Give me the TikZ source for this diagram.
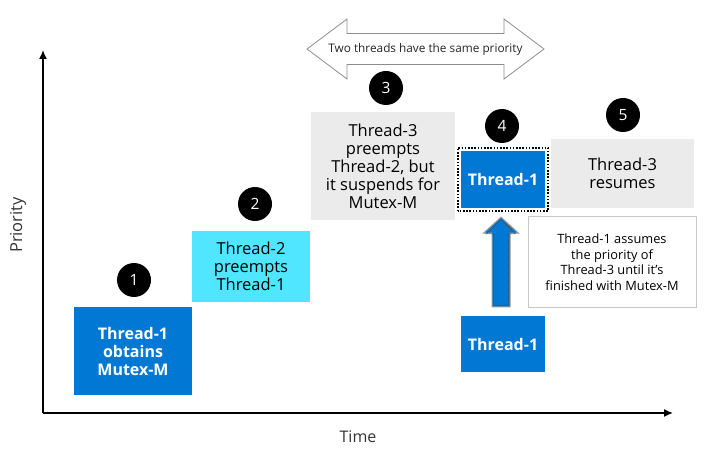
\documentclass[tikz,border=0pt]{standalone}
\usepackage{fontspec}
\setmainfont{Open Sans}
\usetikzlibrary{calc}
\definecolor{threadblue}{HTML}{0078D4}
\definecolor{threadcyan}{HTML}{50E6FF}
\definecolor{threadgray}{HTML}{EBEBEB}
\definecolor{noteborder}{HTML}{C8C8C8}
\tikzset{
  box/.style={inner sep=2pt, align=center, font=\fontsize{16.5}{18}\selectfont},
  stepnum/.style={circle, fill=black, text=white, minimum size=34pt, inner sep=0pt, font=\fontsize{15.5}{18}\selectfont},
  axis/.style={line width=1.5pt, -{Latex[length=9pt,width=8pt]}},
}
\usetikzlibrary{arrows.meta}
\begin{document}
\begin{tikzpicture}[x=1pt, y=-1pt]
  % Define parameters
  \def\headExt{17.5}   % half width of the head of the up arrow
  \def\shaftHalf{9}    % half width of the shaft of the up arrow
  \def\frameGap{3}     % gap between Thread-1 and its dotted frame

  \useasboundingbox (0,0) rectangle (711,462);

  %% Axes
  \coordinate (origin) at (43,413);
  \coordinate (ytop) at (43,50);
  \coordinate (xend) at (673,413);
  \draw[axis] (origin) -- (ytop);
  \draw[axis] (origin) -- (xend);
  \node[rotate=90, font=\fontsize{16.5}{18}\selectfont, text=black!80] (priolabel) at (18,225) {Priority};
  \node[font=\fontsize{16}{18}\selectfont, text=black!80] (timelabel) at (358,437) {Time};

  %% Boxes of the five steps
  \node[box, fill=threadblue, text=white, font=\bfseries\fontsize{16}{18}\selectfont,
        minimum width=118pt, minimum height=88pt] (obtains) at (133,351) {Thread-1\\obtains\\Mutex-M};
  \node[box, fill=threadcyan, minimum width=118pt, minimum height=71pt] (preempts) at (251,266.5) {Thread-2\\preempts\\Thread-1};
  \node[box, fill=threadgray, minimum width=144pt, minimum height=108pt] (suspends) at (383,166) {Thread-3\\preempts\\Thread-2, but\\it suspends for\\Mutex-M};
  \node[box, fill=threadblue, text=white, font=\bfseries\fontsize{16}{18}\selectfont,
        minimum width=84pt, minimum height=57pt] (inherit) at (503,179.5) {Thread-1};
  \node[box, fill=threadgray, minimum width=143pt, minimum height=69pt] (resumes) at (622.5,173.5) {Thread-3\\resumes};
  \node[box, fill=threadblue, text=white, font=\bfseries\fontsize{16}{18}\selectfont,
        minimum width=84pt, minimum height=56pt] (lowthread) at (503,344) {Thread-1};
  \node[box, draw=noteborder, line width=1pt, fill=white, font=\fontsize{12.8}{15.5}\selectfont,
        minimum width=168pt, minimum height=90pt] (note) at (612,262) {Thread-1 assumes\\the priority of\\Thread-3 until it's\\finished with Mutex-M};

  % dotted frame round Thread-1
  \draw[line width=1.6pt, dash pattern=on 1.6pt off 1.6pt]
    ($(inherit.south west)+(-\frameGap,\frameGap)$) rectangle ($(inherit.north east)+(\frameGap,-\frameGap)$);

  %% Step numbers
  \foreach \n/\x/\y in {1/134/280, 2/255/204, 3/386/88, 4/502/126, 5/623/115} {
    \node[stepnum] (num\n) at (\x,\y) {\n};
  }

  %% Up arrow from Thread-1 to Thread-1
  \coordinate (arrowtail) at ($(lowthread.north)+(-2,-9)$);
  \coordinate (arrowtip) at ($(inherit.south)+(-2,9)$);
  \filldraw[fill=threadblue, draw=gray!80, line width=1pt]
    (arrowtip) -- ++(\headExt,16) -- ++(-\headExt+\shaftHalf,0) |- ($(arrowtail)+(-\shaftHalf,0)$)
    -- ++(0,0) |- ($(arrowtip)+(-\shaftHalf,16)$) -- ++(-\headExt+\shaftHalf,0) -- cycle;
  \draw[black!70, line width=0.8pt, dash pattern=on 0.8pt off 0.8pt]
    ($(arrowtip)+(0,2.5)$) -- ++(\headExt-3,14) -- ++(-\headExt+3+\shaftHalf-1.5,0) |- ($(arrowtail)+(-\shaftHalf+1.5,-1.5)$)
    |- ($(arrowtip)+(-\shaftHalf+1.5,16.5)$) -- ++(-\headExt+3+\shaftHalf-1.5,0) -- cycle;

  %% Double arrow: same priority
  \node[font=\fontsize{11.8}{14}\selectfont, text=black!85] (sameprio) at (425.5,49) {Two threads have the same priority};
  \draw[gray!90, line width=0.8pt, fill=white]
    ($(sameprio)+(-118.5,0)$) -- ++(40,-30) -- ++(0,14.5) -- ++(157,0) -- ++(0,-14.5) -- ++(40,30)
    -- ++(-40,30) -- ++(0,-14.5) -- ++(-157,0) -- ++(0,14.5) -- cycle;
  \node[font=\fontsize{11.8}{14}\selectfont, text=black!85] at (sameprio) {Two threads have the same priority};
\end{tikzpicture}
\end{document}
